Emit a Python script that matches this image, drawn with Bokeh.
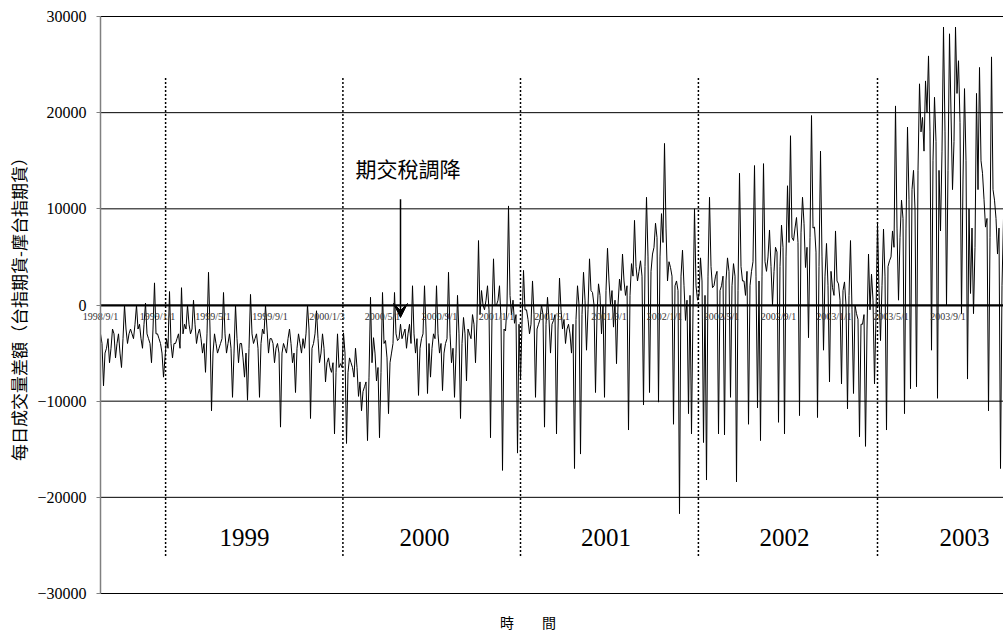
import math
from bokeh.plotting import figure
from bokeh.models import Range1d, FixedTicker, Label, LabelSet, Arrow, VeeHead, ColumnDataSource
from bokeh.embed import file_html
from bokeh.resources import INLINE
from bokeh.core.properties import value

# daily volume difference (TAIFEX TX minus SGX MSCI Taiwan futures)
diff_volume = [
    -3000, -4000, -8400, -5000, -4500, -3500, -6000, -4500, -2500, -3000, -5500, -4000, -3000, -5000, -6500, -3500, 0, -2500, -4000, -3000,
    -2500, -3000, -3500, -2000, 0, -2500, -2000, -3500, -4500, -2000, 200, -3000, -3500, -4000, -6000, -2500, 2300, -3000, -3000, -3500,
    -4000, -5000, -7500, -5500, -3500, -4500, 1400, -4000, -5500, -4000, -4000, -3500, -3000, -4500, 1800, -3000, -2000, -2500, 0, -2000,
    -3000, -2500, 500, -2000, -4000, -3000, -2500, -3500, -5000, -4000, -7000, -3000, 3400, -2500, -11000, -5000, -3000, -4000, -5000, -4500,
    -4000, -3500, 1300, -3000, -5000, -4000, -3000, -4500, -9600, -5000, 0, -3500, -6000, -4000, -4000, -5500, -7500, -5000, -9900, -4500,
    1100, -3000, -4000, -3500, -3000, -4500, -9600, -4000, -2500, -3000, 0, -2500, -5000, -3500, -3500, -4000, -6000, -4500, -4000, -5000,
    -12700, -5000, -4000, -4500, -5000, -3500, -2500, -4000, -6000, -5000, -9100, -4500, -3000, -4000, -5000, -3500, -4500, -3000, 0, -2500,
    -11800, -4500, -4000, -3000, -600, -3500, -6000, -5000, -3000, -4500, -8000, -6000, -5500, -6500, -7000, -6000, -13400, -7000, -3000, -6500,
    -6100, -6500, -2900, -5000, -14400, -7000, -5500, -6000, -6500, -7500, -4500, -6500, -9500, -8000, -11000, -9000, -8500, -8000, -14100, -7500,
    800, -6000, -3400, -5000, -7900, -6500, -13800, -7000, 1300, -4000, -3700, -5500, -11300, -6000, -5000, -4000, 1300, -3000, -3700, -3500,
    -2000, -3500, -3000, -2500, -4500, -3000, -2000, -4000, 2000, -3000, -5000, -3500, -9400, -4500, -3500, -3000, 2000, -2500, -9200, -4000,
    -7500, -4500, -3000, -3500, 2000, -3000, -5000, -4000, -8900, -5000, -4000, -3500, 3400, -3000, -6000, -4500, -9600, -5000, 1000, -3000,
    -11800, -4000, -1300, -3000, -7900, -2500, -3000, -3500, -1000, -2000, -6000, -1500, 6700, -1000, 1500, 0, -500, 500, 2000, -500,
    -13800, -1000, 4800, 0, 0, 500, 2000, -1500, -17200, -2500, -2700, 0, 10300, 1000, -1000, 500, -1900, -1000, -15400, -2000,
    -7800, -2000, 3600, -500, -500, -1500, -3000, -2000, 2500, -1000, -9600, -2500, -2000, -1500, 0, -1000, -12700, -2000, 800, -1500,
    -5000, -2000, -1600, -1000, -13400, -2500, 2800, -500, -2500, -1500, -4000, -2500, -2000, -3000, -5000, -2000, -17000, -1500, 2000, 0,
    -15500, -1000, 3400, 500, -4700, -500, 4800, 1500, 1300, 0, -9100, -1000, 2200, 1000, -3000, 0, -9600, 1500, 5900, 2500,
    0, 1500, -2300, 500, -6100, 0, 2700, 1500, 5300, 2500, 1000, 2000, -13000, 1000, 4300, 3000, 8800, 4000, 2500, 3500,
    4600, 3000, -10400, 4000, 11200, 5000, -9100, 3500, 5300, 6000, 8500, 7000, -10100, 5000, 9500, 6500, 16800, 8000, 2500, 4500,
    3900, 3000, -12400, 2000, 2500, 1500, -21700, 3000, 5700, 2000, -1600, 500, -11300, 1000, -13400, -500, 10000, 2000, 500, 1000,
    4900, 2500, -14300, 1000, -18200, 3000, 11200, 4000, 1800, 2000, 3000, 3500, -13400, 1500, 2000, 3000, -13500, 2500, 4900, 3500,
    -9600, 2000, 4300, 3000, -18400, 1500, 13700, 4000, 2500, 2500, 1000, 3500, -12400, 2000, 3500, 4500, 14500, 3000, -10700, 2500,
    -14100, 3000, 14700, 4500, 3500, 5000, 7800, 4000, 0, 3500, 6000, 5500, -12200, 4000, 8300, 6000, -13400, 5000, 12400, 6500,
    17600, 7000, 6700, 8000, 9100, 6500, -11500, 7500, 11200, 8500, 3900, 6000, -3400, 7000, 19700, 8000, 8100, 5500, -11700, 4000,
    16000, 5000, -4700, 3000, 6400, 2000, -8000, 3500, 1800, 1000, 7700, 2500, 2200, 500, -8200, 1500, 2400, 0, -10800, 1000,
    6700, -500, -9200, 0, -900, -1500, -13700, -2000, -2000, -1000, -14700, -2500, 5300, -500, 3200, 500, -8200, -1000, 8500, 1500,
    -3700, 2000, 7900, 3000, -13000, 4000, 4600, 5000, 7700, 6000, 20700, 8000, 500, 7000, 10900, 9000, -11300, 8000, 18500, 11000,
    -8700, 12000, 14000, 10000, -8500, 14000, 23000, 18000, 19500, 16000, 23300, 20000, 25900, 18000, -4700, 15000, 21600, 17000, -9700, 14000,
    7700, 16000, 28900, 18000, 0, 14000, 28200, 20000, 12000, 17000, 28900, 22000, 25400, 19000, -900, 13000, 22500, 15000, -7700, 10000,
    1200, 8000, -900, 6000, 22000, 12000, 24700, 15000, 13700, 11000, 8100, 9000, -11000, 7000, 25800, 12000, 10900, 9000, 5300, 8000,
    -17000, 2000, 9000,
]

date_labels = ["1998/9/1", "1999/1/1", "1999/5/1", "1999/9/1", "2000/1/3", "2000/5/1",
               "2000/9/1", "2001/1/1", "2001/5/1", "2001/9/1", "2002/1/1", "2002/5/1",
               "2002/9/1", "2003/1/1", "2003/5/1", "2003/9/1"]
date_label_idx = [0, 38, 75, 113, 151, 188, 226, 264, 301, 339, 376, 414, 452, 489, 527, 565]

year_labels = ["1999", "2000", "2001", "2002", "2003"]
year_label_idx = [96, 216, 337, 456, 576]
year_start_idx = [43.4, 161.6, 280, 398.6, 518]
year_label_y = -24200
divider_top, divider_bottom = 23600, -26200

y_ticks = [-30000, -20000, -10000, 0, 10000, 20000, 30000]

note_text = "期交稅調降"
note_idx, note_y = 205, 14200
arrow_idx, arrow_from, arrow_to = 200, 11000, -1300

y_title = "每日成交量差額（台指期貨-摩台指期貨）"
x_title = "時　　間"
x_title_idx = 285

serif = "Liberation Serif"
cjk = "Noto Sans CJK TC"

idx = list(range(len(diff_volume)))
last = len(diff_volume) - 1
# visible window: room left of the first day for the value axis, and above/below the value range
view_x = (-66.67, last)
view_y = (-34367, 31664)

p = figure(width=1003, height=635, output_backend="svg", toolbar_location=None,
           x_range=Range1d(*view_x), y_range=Range1d(*view_y),
           min_border_left=0, min_border_right=0, min_border_top=0, min_border_bottom=0)
p.outline_line_color = None
p.background_fill_color = "white"
p.border_fill_color = "white"
p.grid.visible = False

# horizontal grid lines, starting at the value axis
p.segment(x0=[0] * len(y_ticks), x1=[last] * len(y_ticks), y0=y_ticks, y1=y_ticks,
          line_color="black", line_width=1)

# category (date) axis crossing at zero
xa = p.xaxis[0]
xa.fixed_location = 0
xa.bounds = (0, last)
xa.ticker = FixedTicker(ticks=date_label_idx)
xa.major_label_overrides = {i: t for i, t in zip(date_label_idx, date_labels)}
xa.axis_line_color = "black"
xa.axis_line_width = 2
xa.major_tick_line_color = None
xa.minor_tick_line_color = None
xa.major_label_standoff = 0
xa.major_label_text_font = serif
xa.major_label_text_font_size = "10px"
xa.major_label_text_color = "#333333"

# value axis crossing at the first day
ya = p.yaxis[0]
ya.fixed_location = 0
ya.bounds = (-30000, 30000)
ya.ticker = FixedTicker(ticks=y_ticks)
ya.axis_line_color = "#808080"
ya.axis_line_width = 1.5
ya.major_tick_line_color = "#808080"
ya.major_tick_out = 4
ya.major_tick_in = 0
ya.minor_tick_line_color = None
ya.major_label_standoff = 10
ya.major_label_text_font = serif
ya.major_label_text_font_size = "16px"
ya.major_label_text_color = "black"

# year dividers
p.segment(x0=year_start_idx, y0=[divider_top] * 5, x1=year_start_idx, y1=[divider_bottom] * 5,
          line_color="black", line_width=1.5, line_dash="2 2")

# data line
p.line(idx, diff_volume, line_color="black", line_width=1.0)

# year labels
year_src = ColumnDataSource(dict(x=year_label_idx, y=[year_label_y] * 5, t=year_labels))
p.add_layout(LabelSet(x="x", y="y", text="t", source=year_src, text_font=value(serif),
                      text_font_size="25px", text_color="black", text_align="center",
                      text_baseline="middle"))

# annotation
p.add_layout(Label(x=note_idx, y=note_y, text=note_text, text_font=cjk, text_font_size="21px",
                   text_align="center", text_baseline="middle", text_color="black"))
p.add_layout(Arrow(end=VeeHead(size=14, fill_color="black", line_color="black"),
                   x_start=arrow_idx, y_start=arrow_from, x_end=arrow_idx, y_end=arrow_to,
                   line_color="black", line_width=1.5))

# axis titles
p.add_layout(Label(x=0, y=0, x_offset=-82, text=y_title, angle=math.pi / 2, text_font=cjk,
                   text_font_size="17px", text_align="center", text_baseline="middle",
                   text_color="black"))
p.add_layout(Label(x=x_title_idx, y=-30000, y_offset=-28, text=x_title, text_font=cjk,
                   text_font_size="14px", text_align="center", text_baseline="middle",
                   text_color="black"))

open("out.html", "w").write(file_html(p, INLINE))
